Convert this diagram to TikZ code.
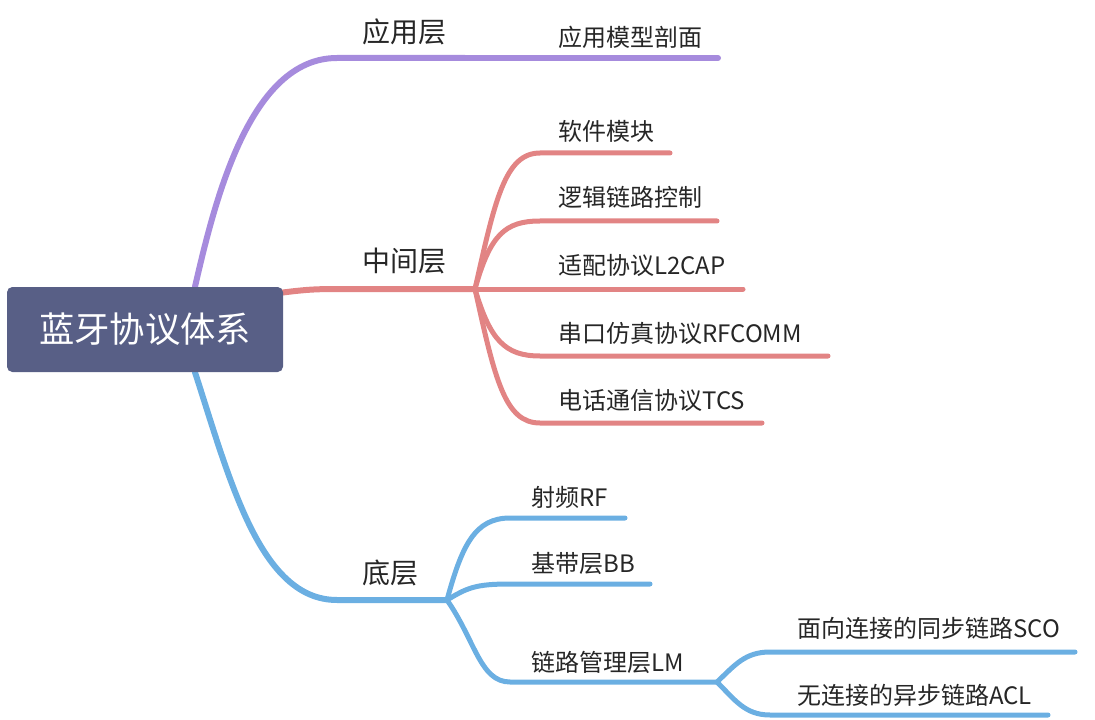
\documentclass[tikz,border=0pt]{standalone}
\usepackage{fontspec}
\setmainfont{Noto Sans CJK SC}
\usetikzlibrary{backgrounds}
\definecolor{rootFill}{RGB}{88,95,134}
\definecolor{myPurple}{RGB}{166,139,221}
\definecolor{myRed}{RGB}{226,132,132}
\definecolor{myBlue}{RGB}{107,175,226}
\definecolor{txtGray}{RGB}{38,38,38}
\tikzset{
	rootbox/.style={
		fill=rootFill,
		rounded corners=4pt,
		minimum width=207pt,
		minimum height=63.75pt,
		inner sep=0pt,
		text=white,
		font=\fontsize{26.5}{30}\selectfont
	},
	mainlbl/.style={anchor=base west, inner sep=0pt, text=txtGray, font=\fontsize{21}{24}\selectfont},
	sublbl/.style={anchor=base west, inner sep=0pt, text=txtGray, font=\fontsize{18}{21}\selectfont},
	mline/.style={line width=4.5pt, line cap=round},
	sline/.style={line width=3.75pt, line cap=round}
}
\begin{document}
\begin{tikzpicture}[x=0.75pt, y=-0.75pt]
		\useasboundingbox (0,0) rectangle (1095,720);
		\node[rootbox] (root) at (145,329.5) {蓝牙协议体系};
		\node[mainlbl] (app) at (362,43) {应用层};
		\node[mainlbl] (mid) at (362,272) {中间层};
		\node[mainlbl] (low) at (362,583) {底层};
		\node[sublbl] (prof) at (558,47) {应用模型剖面};
		\node[sublbl] (soft) at (558,141) {软件模块};
		\node[sublbl] (logic) at (558,207) {逻辑链路控制};
		\node[sublbl] (ltcap) at (558,274) {适配协议L2CAP};
		\node[sublbl] (rfcomm) at (558,342) {串口仿真协议RFCOMM};
		\node[sublbl] (tcs) at (558,409) {电话通信协议TCS};
		\node[sublbl] (rfreq) at (531,506) {射频RF};
		\node[sublbl] (bb) at (531,572) {基带层BB};
		\node[sublbl] (lm) at (531,671) {链路管理层LM};
		\node[sublbl] (sco) at (797,637) {面向连接的同步链路SCO};
		\node[sublbl] (acl) at (797,704) {无连接的异步链路ACL};
		% where the lines start, bend and end
		\coordinate (rootT) at ([xshift=37.5pt]root.north);
		\coordinate (rootR) at ([xshift=-6pt, yshift=27pt]root.east);
		\coordinate (rootB) at ([xshift=37.5pt]root.south);
		\coordinate (appB) at (337,58);
		\coordinate (appJ) at (465,58);
		\coordinate (profE) at (718,58);
		\coordinate (midB) at (340,289);
		\coordinate (midJ) at (475,289);
		\coordinate (softB) at (540,153);
		\coordinate (softE) at (670,153);
		\coordinate (logicB) at (540,221);
		\coordinate (logicE) at (717,221);
		\coordinate (ltcapE) at (743,289);
		\coordinate (rfcommB) at (540,356);
		\coordinate (rfcommE) at (828,356);
		\coordinate (tcsB) at (540,423);
		\coordinate (tcsE) at (762,423);
		\coordinate (lowB) at (337,600);
		\coordinate (lowJ) at (447,600);
		\coordinate (rfreqB) at (510,518);
		\coordinate (rfreqE) at (625,518);
		\coordinate (bbB) at (510,584);
		\coordinate (bbE) at (650,584);
		\coordinate (lmB) at (510,682);
		\coordinate (lmJ) at (717,682);
		\coordinate (scoB) at (770,652);
		\coordinate (scoE) at (1075,652);
		\coordinate (aclB) at (770,715);
		\coordinate (aclE) at (1048,715);
		\begin{scope}[on background layer]
			% top branch
			\draw[mline, myPurple] (rootT) .. controls +(20,-87) and +(-87,0) .. (appB) -- (appJ);
			\draw[mline, myPurple] (appJ) -- (profE);
			% middle branch
			\draw[mline, myRed] (rootR) .. controls +(30,-4) and +(-25,0) .. (midB) -- (midJ);
			\draw[sline, myRed] (midJ) .. controls +(20,-89) and +(-35,0) .. (softB) -- (softE);
			\draw[sline, myRed] (midJ) .. controls +(15,-54) and +(-35,0) .. (logicB) -- (logicE);
			\draw[sline, myRed] (midJ) -- (ltcapE);
			\draw[sline, myRed] (midJ) .. controls +(15,51) and +(-35,0) .. (rfcommB) -- (rfcommE);
			\draw[sline, myRed] (midJ) .. controls +(20,91) and +(-35,0) .. (tcsB) -- (tcsE);
			% bottom branch
			\draw[mline, myBlue] (rootB) .. controls +(35,108) and +(-77,0) .. (lowB) -- (lowJ);
			\draw[sline, myBlue] (lowJ) .. controls +(15,-55) and +(-35,0) .. (rfreqB) -- (rfreqE);
			\draw[sline, myBlue] (lowJ) .. controls +(20,-12) and +(-35,0) .. (bbB) -- (bbE);
			\draw[sline, myBlue] (lowJ) .. controls +(28,40) and +(-30,0) .. (lmB) -- (lmJ);
			\draw[sline, myBlue] (lmJ) .. controls +(18,-17) and +(-25,0) .. (scoB) -- (scoE);
			\draw[sline, myBlue] (lmJ) .. controls +(18,18) and +(-25,0) .. (aclB) -- (aclE);
		\end{scope}
	\end{tikzpicture}
\end{document}
